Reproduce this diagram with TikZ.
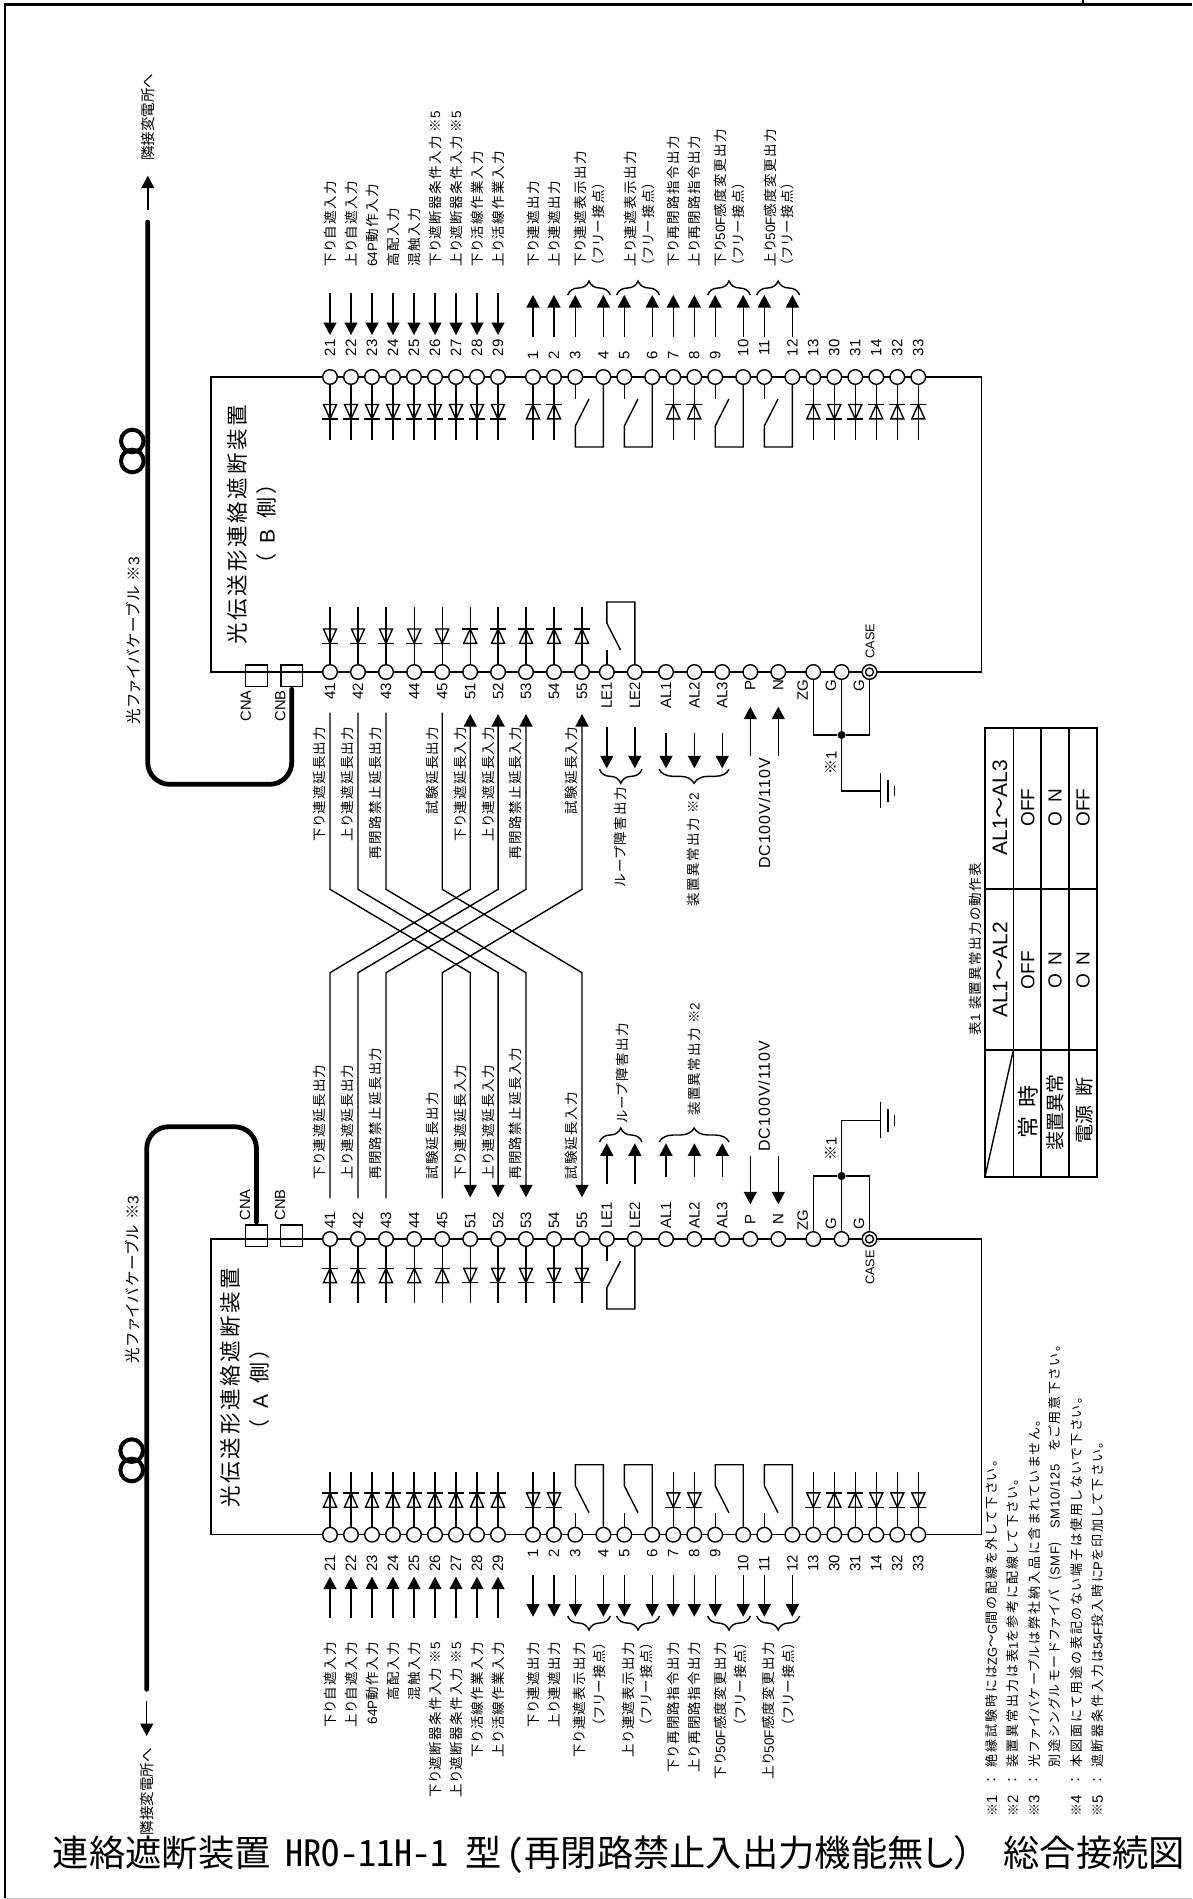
\documentclass[tikz,border=0pt]{standalone}
\usepackage{fontspec}
\usetikzlibrary{arrows.meta}
\usetikzlibrary{decorations.pathreplacing}
\setmainfont{Liberation Sans}
\newfontfamily\ar{Liberation Sans}
\newfontfamily\arw[LetterSpace=6]{Liberation Sans}
\newfontfamily\jp[RawFeature=+palt,LetterSpace=10]{Noto Sans CJK JP}
\newfontfamily\jpn[RawFeature=+palt,LetterSpace=15]{Noto Sans CJK JP}
\newfontfamily\jph[LetterSpace=13]{Noto Sans CJK JP}
\newfontfamily\jpf{Noto Sans CJK JP}
\newfontfamily\jpt[RawFeature=+palt]{Noto Sans CJK JP}
\newfontfamily\ttl[RawFeature=+hwid]{Noto Sans CJK JP}
\newcommand{\contact}[3]{
	\path (#1) ++(0,{22*(#3)}) coordinate (#1s) ++(0,{48*(#3)}) coordinate (#1f) ++(0,{-21*(#3)}) coordinate (#1h) ++(13.7,{-27*(#3)}) coordinate (#1m);
	\draw[wire] (#1) -- (#1s);
	\draw[wire] (#2) -- (#2 |- #1f) -- (#1f) -- (#1h) -- (#1m);
}
\newcommand{\sidetext}[1]{（\hspace{10.3pt}{\ar\fontsize{21}{22}\selectfont #1}\hspace{11pt}側\hspace{3pt}）}
\tikzset{
	wire/.style={line width=1.4pt},
	fibre/.style={line width=4.8pt,line cap=round},
	tabl/.style={line width=1.7pt},
	frame/.style={line width=2.2pt},
	term/.style={circle,draw,fill=white,line width=1.4pt,inner sep=0pt,minimum size=14.6pt},
	termin/.style={circle,draw,line width=1.4pt,inner sep=0pt,minimum size=8pt},
	dot/.style={circle,fill=black,inner sep=0pt,minimum size=8pt},
	coil/.style={circle,draw,line width=4pt,inner sep=0pt,minimum size=22.6pt},
	cnbox/.style={rectangle,draw,line width=1.4pt,inner sep=0pt,minimum width=21.6pt,minimum height=21.3pt},
	num/.style={rotate=90,inner sep=0pt,font=\ar\fontsize{15}{15}\selectfont},
	small/.style={rotate=90,inner sep=0pt,font=\ar\fontsize{12.6}{13}\selectfont},
	labl/.style={rotate=90,inner sep=0pt,font=\jp\fontsize{13.5}{14}\selectfont},
	note/.style={rotate=90,inner sep=0pt,font=\jpn\fontsize{13}{14}\selectfont},
	head/.style={rotate=90,inner sep=0pt,font=\jph\fontsize{21.5}{25}\selectfont},
	cell/.style={rotate=90,inner sep=0pt,font=\jpt\fontsize{19}{20}\selectfont},
	brc/.style={wire,decorate,decoration={brace,amplitude=14pt}},
	brcm/.style={wire,decorate,decoration={brace,amplitude=14pt,mirror}},
	diode/.pic={
		\draw[wire] (-6.5,7.2) -- (6.5,7.2) -- (0,-7.2) -- cycle;
		\draw[wire] (-8,-7.2) -- (8,-7.2);
	},
	>={Triangle[length=12.5pt,width=13pt]},
}
\begin{document}
\begin{tikzpicture}[x=1pt,y=-1pt]
\useasboundingbox[fill=white] (0,0) rectangle (1192,1899);
\draw[frame] (1192,4.5) -- (5,4.5) -- (5,1898);
\draw[frame] (1083,0) -- (1083,4.5);
\draw[line width=1pt,black!25] (5,1898) -- (1192,1898);

\coordinate (btl) at (211,377);
\coordinate (bbr) at (981.3,672);
\coordinate (atl) at (211,1239);
\coordinate (abr) at (981.3,1534.7);
\draw[wire] (btl) rectangle (bbr);
\draw[wire] (atl) rectangle (abr);

\node[cnbox] (bcna) at (256.5,675.6) {};
\node[cnbox] (bcnb) at (291.7,675.6) {};
\node[cnbox] (acna) at (256.5,1235.8) {};
\node[cnbox] (acnb) at (291.5,1235.8) {};
\node[small,font=\ar\fontsize{14.7}{15}\selectfont,anchor=east] (lbcna) at (245.7,690) {CNA};
\node[small,font=\ar\fontsize{14.7}{15}\selectfont,anchor=east] (lbcnb) at (280.4,690) {CNB};
\node[small,font=\ar\fontsize{14.7}{15}\selectfont,anchor=west] (lacna) at (245,1220.7) {CNA};
\node[small,font=\ar\fontsize{14.7}{15}\selectfont,anchor=west] (lacnb) at (280,1220.7) {CNB};

\coordinate (bf1) at (147.7,222);
\coordinate (bf2) at (147.7,784.3);
\coordinate (bf3) at (bcnb.south |- bf2);
\draw[fibre,rounded corners=22pt,shorten >=2.4pt] (bf1) -- (bf2) -- (bf3) -- (bcnb.south);
\coordinate (af1) at (146.7,1689.3);
\coordinate (af2) at (146.7,1126.7);
\coordinate (af3) at (acna.north |- af2);
\draw[fibre,rounded corners=22pt,shorten >=2.4pt] (af1) -- (af2) -- (af3) -- (acna.north);
\node[coil] (bcoil1) at (132.3,441) {};
\node[coil] (bcoil2) at (132.3,461) {};
\node[coil] (acoil1) at (131.7,1450.6) {};
\node[coil] (acoil2) at (131.7,1470) {};

\coordinate (bnb1) at (147.8,210);
\coordinate (bnb2) at (147.8,175.7);
\coordinate (anb1) at (146.7,1701);
\coordinate (anb2) at (146.7,1736);
\draw[wire,->] (bnb1) -- (bnb2);
\draw[wire,->] (anb1) -- (anb2);
\node[labl,font=\jpt\fontsize{14.5}{15}\selectfont,anchor=west] (bnbr) at (147.8,161) {隣接変電所へ};
\node[labl,font=\jpt\fontsize{14.5}{15}\selectfont,anchor=east] (anbr) at (146.7,1748) {隣接変電所へ};
\node[labl,font=\jp\fontsize{15.5}{16}\selectfont,anchor=west] (bcab) at (133.3,725) {光ファイバケーブル ※{\ar 3}};
\node[labl,font=\jp\fontsize{15.5}{16}\selectfont,anchor=west] (acab) at (132.7,1363.3) {光ファイバケーブル ※{\ar 3}};

\node[head,anchor=west] (bhead) at (237.3,645) {光伝送形連絡遮断装置};
\node[head,anchor=west] (ahead) at (230.7,1508) {光伝送形連絡遮断装置};
\node[head,font=\jpf\fontsize{21}{24}\selectfont] (bside) at (266.7,524.3) {\sidetext{B}};
\node[head,font=\jpf\fontsize{21}{24}\selectfont] (aside) at (260,1389.5) {\sidetext{A}};

\foreach \n/\x/\db/\da in {21/330/-1/1,22/351/-1/1,23/372/-1/1,24/393/-1/1,25/414/-1/1,26/435/-1/1,27/456/-1/1,28/477/-1/1,29/498/-1/1,
	1/533/1/-1,2/554/1/-1,7/673.3/1/-1,8/694.3/1/-1,13/813.3/1/-1,30/834.3/-1/1,31/855.3/-1/1,14/876.3/1/-1,32/897.3/1/-1,33/918.3/1/-1}{
	\node[term] (b\n) at (\x,377) {};
	\node[term] (a\n) at (\x,1534.7) {};
	\coordinate (bl\n) at (\x,440);
	\coordinate (al\n) at (\x,1471.7);
	\draw[wire] (b\n) -- (bl\n);
	\draw[wire] (a\n) -- (al\n);
	\pic[yscale=\db] at (\x,411.7) {diode};
	\pic[yscale=\da] at (\x,1500) {diode};
}
\foreach \n/\x in {3/575.3,4/603.4,5/624.3,6/652.2,9/715.2,10/743.2,11/764.3,12/792.4}{
	\node[term] (b\n) at (\x,377) {};
	\node[term] (a\n) at (\x,1534.7) {};
}
\contact{b3}{b4}{1}
\contact{b5}{b6}{1}
\contact{b9}{b10}{1}
\contact{b11}{b12}{1}
\contact{a3}{a4}{-1}
\contact{a5}{a6}{-1}
\contact{a9}{a10}{-1}
\contact{a11}{a12}{-1}

\foreach \n/\x in {21/330,22/351,23/372,24/393,25/414,26/435,27/456,28/477,29/498,10/743.2,11/764.3,12/792.4,13/813.3,30/834.3,31/855.3,14/876.3,32/897.3,33/918.3}{
	\node[num] (nb\n) at (\x,347.7) {\n};
	\node[num] (na\n) at (\x,1563.5) {\n};
}
\foreach \n/\x in {1/533,2/554,3/575.3,4/603.4,5/624.3,6/652.2,7/673.3,8/694.3,9/715.2}{
	\node[num] (nb\n) at (\x,355) {\n};
	\node[num] (na\n) at (\x,1553.7) {\n};
}

\foreach \n/\x in {21/330,22/351,23/372,24/393,25/414,26/435,27/456,28/477,29/498}{
	\coordinate (bs\n) at (\x,293);
	\coordinate (be\n) at (\x,335);
	\coordinate (as\n) at (\x,1618.3);
	\coordinate (ae\n) at (\x,1576.7);
	\draw[wire,->] (bs\n) -- (be\n);
	\draw[wire,->] (as\n) -- (ae\n);
}
\foreach \n/\x in {1/533,2/554,3/575.3,4/603.4,5/624.3,6/652.2,7/673.3,8/694.3,9/715.2,10/743.2,11/764.3,12/792.4}{
	\coordinate (bs\n) at (\x,336.7);
	\coordinate (be\n) at (\x,295);
	\coordinate (as\n) at (\x,1575);
	\coordinate (ae\n) at (\x,1616.7);
	\draw[wire,->] (bs\n) -- (be\n);
	\draw[wire,->] (as\n) -- (ae\n);
}

\foreach \i/\l/\r in {1/567.7/610.3,2/616.6/659.5,3/707.6/750.4,4/756.7/799.6}{
	\coordinate (bbl\i) at (\l,295);
	\coordinate (bbr\i) at (\r,295);
	\coordinate (abl\i) at (\l,1616);
	\coordinate (abr\i) at (\r,1616);
	\draw[brc] (bbl\i) -- (bbr\i);
	\draw[brcm] (abl\i) -- (abr\i);
}

\foreach \n/\x/\txt in {21/330/下り自遮入力,22/351/上り自遮入力,23/372/{\ar 64P}動作入力,24/393/高配入力,25/414/混触入力,
	26/435/下り遮断器条件入力 ※{\ar 5},27/456/上り遮断器条件入力 ※{\ar 5},28/477/下り活線作業入力,29/498/上り活線作業入力,
	1/533/下り連遮出力,2/554/上り連遮出力,7/673.3/下り再閉路指令出力,8/694.3/上り再閉路指令出力}{
	\node[labl,anchor=west] (tb\n) at (\x,266.7) {\txt};
	\node[labl,anchor=east] (ta\n) at (\x,1642) {\txt};
}
\foreach \n/\xb/\xc/\xa/\xd/\txt in {3/580.3/598.6/579/599/下り連遮表示出力,5/630/648/628/646.7/上り連遮表示出力,
	9/720/738/720.3/740/下り{\ar 50F}感度変更出力,11/770/787.6/768.7/788.7/上り{\ar 50F}感度変更出力}{
	\node[labl,anchor=west] (tb\n) at (\xb,266.7) {\txt};
	\node[labl,anchor=east] (ta\n) at (\xa,1642) {\txt};
	\node[labl,anchor=west] (ub\n) at (\xc,266.7) {（フリー接点）};
	\node[labl,anchor=east] (ua\n) at (\xd,1642) {（フリー接点）};
}

\foreach \n/\x/\db/\da in {41/330/-1/1,42/358/-1/1,43/386/-1/1,44/414.2/-1/1,45/442.2/-1/1,51/470.2/1/-1,52/498.1/1/-1,53/526/1/-1,54/554/1/-1,55/582/1/-1}{
	\node[term] (b\n) at (\x,672) {};
	\node[term] (a\n) at (\x,1239) {};
	\coordinate (bl\n) at (\x,607);
	\coordinate (al\n) at (\x,1303.3);
	\draw[wire] (b\n) -- (bl\n);
	\draw[wire] (a\n) -- (al\n);
	\pic[yscale=\db] at (\x,636.2) {diode};
	\pic[yscale=\da] at (\x,1275.5) {diode};
	\node[num] (nb\n) at (\x,691) {\n};
	\node[num] (na\n) at (\x,1220.5) {\n};
}
\foreach \n/\x/\t in {le1/606.8/LE1,le2/634.8/LE2,al1/666/AL1,al2/694.4/AL2,al3/722.2/AL3}{
	\node[term] (b\n) at (\x,672) {};
	\node[term] (a\n) at (\x,1239) {};
	\node[num] (nb\n) at (\x,695) {\t};
	\node[num] (na\n) at (\x,1215) {\t};
}
\foreach \n/\x/\t/\yb/\ya in {p/750.3/P/685/1219,n/778.3/N/685/1219,zg/813.3/ZG/690/1220,g/841.6/G/686/1224,gc/869.5/G/686/1224}{
	\node[term] (b\n) at (\x,672) {};
	\node[term] (a\n) at (\x,1239) {};
	\node[num] (nb\n) at ({\x-(\x>800)*10.6},\yb) {\t};
	\node[num] (na\n) at ({\x-(\x>800)*10.6},\ya) {\t};
}
\node[termin] (bgci) at (bgc) {};
\node[termin] (agci) at (agc) {};
\node[small] (bcase) at (870,641) {CASE};
\node[small] (acase) at (870,1267.5) {CASE};
\contact{ble1}{ble2}{-1}
\contact{ale1}{ale2}{1}

\foreach \p/\q/\xp/\xq/\bt/\at in {41/51/330/470.2/下り連遮延長出力/下り連遮延長入力,42/52/358/498.1/上り連遮延長出力/上り連遮延長入力,
	43/53/386/526/再閉路禁止延長出力/再閉路禁止延長入力,45/55/442.2/582/試験延長出力/試験延長入力}{
	\coordinate (ub\p) at (\xp,712.7);
	\coordinate (kb\p) at (\xp,889.3);
	\coordinate (ka\p) at (\xp,972.7);
	\coordinate (ua\p) at (\xp,1198.3);
	\coordinate (ub\q) at (\xq,714);
	\coordinate (kb\q) at (\xq,889.3);
	\coordinate (ka\q) at (\xq,972.7);
	\coordinate (ua\q) at (\xq,1197.3);
	\draw[wire,->] (ub\p) -- (kb\p) -- (ka\q) -- (ua\q);
	\draw[wire,->] (ua\p) -- (ka\p) -- (kb\q) -- (ub\q);
	\node[labl,anchor=east] (xb\p) at ({\xp-10.2},726.5) {\bt};
	\node[labl,anchor=east] (xb\q) at ({\xq-10.2},726.5) {\at};
	\node[labl,anchor=west] (xa\p) at ({\xp-10.2},1180) {\bt};
	\node[labl,anchor=west] (xa\q) at ({\xq-10.2},1180) {\at};
}

\foreach \n/\x in {le1/606.8,le2/634.8}{
	\coordinate (bs\n) at (\x,726.7);
	\coordinate (be\n) at (\x,768.3);
	\coordinate (as\n) at (\x,1184.3);
	\coordinate (ae\n) at (\x,1143.3);
	\draw[wire,->] (bs\n) -- (be\n);
	\draw[wire,->] (as\n) -- (ae\n);
}
\foreach \n/\x in {al1/666,al2/694.4,al3/722.2}{
	\coordinate (bs\n) at (\x,733.3);
	\coordinate (be\n) at (\x,768.3);
	\coordinate (as\n) at (\x,1177.3);
	\coordinate (ae\n) at (\x,1143.3);
	\draw[wire,->] (bs\n) -- (be\n);
	\draw[wire,->] (as\n) -- (ae\n);
}
\foreach \n/\x in {p/750.3,n/778.3}{
	\coordinate (bs\n) at (\x,756);
	\coordinate (be\n) at (\x,706.7);
	\coordinate (as\n) at (\x,1155.7);
	\coordinate (ae\n) at (\x,1204.3);
	\draw[wire,->] (bs\n) -- (be\n);
	\draw[wire,->] (as\n) -- (ae\n);
}
\foreach \i/\l/\r in {5/599.5/642,6/659.2/729.1}{
	\coordinate (bbl\i) at (\l,769.3);
	\coordinate (bbr\i) at (\r,769.3);
	\coordinate (abl\i) at (\l,1142);
	\coordinate (abr\i) at (\r,1142);
	\draw[brcm] (bbl\i) -- (bbr\i);
	\draw[brc] (abl\i) -- (abr\i);
}
\node[labl,anchor=east] (bloop) at (620,787) {ループ障害出力};
\node[labl,anchor=west] (aloop) at (622.6,1123.3) {ループ障害出力};
\node[labl,anchor=east] (balm) at (693.7,792.7) {装置異常出力 ※{\ar 2}};
\node[labl,anchor=west] (aalm) at (694.4,1116) {装置異常出力 ※{\ar 2}};
\node[num,font=\arw\fontsize{16}{17}\selectfont,anchor=east] (bdc) at (764.5,758) {DC100V/110V};
\node[num,font=\arw\fontsize{16}{17}\selectfont,anchor=west] (adc) at (764.2,1151.7) {DC100V/110V};

\node[dot] (bj) at (841.6,735) {};
\node[dot] (aj) at (841.6,1176) {};
\coordinate (bg0) at (880.5,791);
\coordinate (ag0) at (880.5,1120.3);
\draw[wire] (bzg) |- (bj);
\draw[wire] (bgc) |- (bj);
\draw[wire] (bg) -- (bj);
\draw[wire] (bj) |- (bg0);
\draw[wire] (azg) |- (aj);
\draw[wire] (agc) |- (aj);
\draw[wire] (ag) -- (aj);
\draw[wire] (aj) |- (ag0);
\draw[wire] (880.5,773) -- (880.5,808);
\draw[wire] (888,780) -- (888,801.7);
\draw[wire] (894.5,786) -- (894.5,796);
\draw[wire] (880.5,1102.3) -- (880.5,1137.7);
\draw[wire] (888,1109.3) -- (888,1131.7);
\draw[wire] (894.5,1115) -- (894.5,1125.7);
\node[labl,font=\jpt\fontsize{15}{15}\selectfont] (bn1) at (831,762.4) {※{\ar 1}};
\node[labl,font=\jpt\fontsize{15}{15}\selectfont] (an1) at (831,1148.5) {※{\ar 1}};

\draw[tabl] (985,728.3) rectangle (1097.2,1176.7);
\foreach \x in {1013.4,1040.9,1068.9}
\draw[tabl] (\x,728.3) -- (\x,1176.7);
\foreach \y in {889,1050}
\draw[tabl] (985,\y) -- (1097.2,\y);
\draw[wire] (985,1176.7) -- (1013.4,1050);
\node[labl,anchor=east] (tcap) at (975,863) {表{\ar 1} 装置異常出力の動作表};
\node[cell,font=\ar\fontsize{21}{21}\selectfont] (th2) at (1000,970) {AL1{\jpt ～}AL2};
\node[cell,font=\ar\fontsize{21}{21}\selectfont] (th3) at (1000,807.7) {AL1{\jpt ～}AL3};
\node[cell,font=\jpt\fontsize{22}{22}\selectfont] (r1) at (1027.7,1112) {常 \ 時};
\node[cell] (r2) at (1055,1112.5) {装置異常};
\node[cell] (r3) at (1084,1110.5) {電源 \ 断};
\foreach \x/\s/\t/\i in {1027.7/OFF/OFF/1,1055/O\ \,N/O\ \,N/2,1083/O\ \,N/OFF/3}{
	\node[cell,font=\ar\fontsize{19}{19}\selectfont] (c\i a) at (\x,970) {\s};
	\node[cell,font=\ar\fontsize{19}{19}\selectfont] (c\i b) at (\x,807.7) {\t};
}

\foreach \x/\m/\txt in {992/1/絶縁試験時には{\ar ZG}～{\ar G}間の配線を外して下さい。,1013/2/装置異常出力は表{\ar 1}を参考に配線して下さい。,
	1034.3/3/光ファイバケーブルは弊社納入品に含まれていません。,1076.3/4/本図面にて用途の表記のない端子は使用しないで下さい。,
	1097.7/5/遮断器条件入力は{\ar 54F}投入時に{\ar P}を印加して下さい。}{
	\node[note,anchor=west] (fm\m) at (\x,1816.7) {※{\ar\fontsize{15}{15}\selectfont\m}};
	\node[note] (fc\m) at (\x,1780) {：};
	\node[note,anchor=west] (ft\m) at (\x,1767.7) {\txt};
}
\node[note,anchor=west] (ft6) at (1055.3,1767.7) {別途シングルモードファイバ\hspace{10pt}({\arw SMF})\hspace{14pt}{\arw SM10/125}\hspace{12pt}をご用意下さい。};

\node[inner sep=0pt,anchor=west,font=\jpt\fontsize{36.3}{37}\selectfont] (title) at (52.7,1854) {連絡遮断装置\hspace{15pt}{\ttl\fontsize{36.3}{37}\selectfont HRO-11H-1}\hspace{16pt}型\hspace{5pt}{\ttl(}再閉路禁止入出力機能無し）\hspace{31pt}総合接続図};
\end{tikzpicture}
\end{document}
